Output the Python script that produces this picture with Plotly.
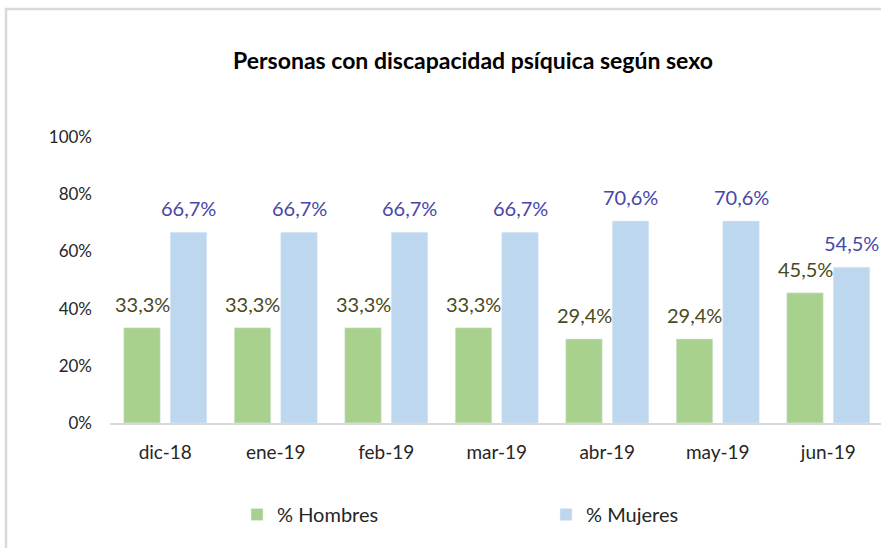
import plotly.graph_objects as go

categories = ["dic-18", "ene-19", "feb-19", "mar-19", "abr-19", "may-19", "jun-19"]
hombres = [0.333, 0.333, 0.333, 0.333, 0.294, 0.294, 0.455]
mujeres = [0.667, 0.667, 0.667, 0.667, 0.706, 0.706, 0.545]
hombres_labels = ["33,3%", "33,3%", "33,3%", "33,3%", "29,4%", "29,4%", "45,5%"]
mujeres_labels = ["66,7%", "66,7%", "66,7%", "66,7%", "70,6%", "70,6%", "54,5%"]
y_ticks = [0, 0.2, 0.4, 0.6, 0.8, 1.0]
y_tick_labels = ["0%", "20%", "40%", "60%", "80%", "100%"]

GREEN = "#A9D18E"
BLUE = "#BDD7EE"
GREEN_TXT = "#4A4A22"
BLUE_TXT = "#4747A8"
FONT = "Lato"

fig = go.Figure()
fig.add_trace(go.Bar(x=categories, y=hombres, name="% Hombres", marker_color=GREEN))
fig.add_trace(go.Bar(x=categories, y=mujeres, name="% Mujeres", marker_color=BLUE))

annotations = []
for c, v, t in zip(categories, hombres, hombres_labels):
    annotations.append(dict(x=c, y=v, text=t, showarrow=False, xshift=-23.25, yshift=10,
                            yanchor="bottom", font=dict(family=FONT, size=20, color=GREEN_TXT)))
for c, v, t in zip(categories, mujeres, mujeres_labels):
    annotations.append(dict(x=c, y=v, text=t, showarrow=False, xshift=23.25, yshift=10,
                            yanchor="bottom", font=dict(family=FONT, size=20, color=BLUE_TXT)))

fig.update_layout(
    width=881, height=548,
    margin=dict(l=110, r=0, t=137, b=125),
    paper_bgcolor="white", plot_bgcolor="white",
    barmode="group", bargap=0.158, bargroupgap=0.215,
    font=dict(family=FONT, color="#404040"),
    title=dict(text="<b>Personas con discapacidad psíquica según sexo</b>",
               x=473 / 881, xref="container", xanchor="center",
               y=1 - 61 / 548, yref="container", yanchor="middle",
               font=dict(family=FONT, size=23, color="#000000")),
    xaxis=dict(range=[-0.5, -0.5 + 771 / 110.5], showline=True, linecolor="#D9D9D9", linewidth=2,
               showgrid=False, ticks="", tickfont=dict(family=FONT, size=19, color="#262626"),
               ticklabelstandoff=11),
    yaxis=dict(range=[0, 1], tickvals=y_ticks, ticktext=y_tick_labels, showgrid=False,
               showline=False, zeroline=False, ticks="",
               tickfont=dict(family=FONT, size=17, color="#262626"), ticklabelstandoff=17),
    legend=dict(orientation="h", x=(237 - 110) / 771, xanchor="left", y=-0.32, yanchor="middle",
                entrywidth=264, entrywidthmode="pixels", itemwidth=30,
                font=dict(family=FONT, size=20, color="#262626")),
    annotations=annotations,
    shapes=[dict(type="rect", xref="paper", yref="paper",
                 x0=(6 - 110) / 771, x1=1.2, y0=-1.0, y1=(423 - 9) / 286,
                 line=dict(color="#D9D9D9", width=2.5), fillcolor="rgba(0,0,0,0)", layer="below")],
)

fig.write_html("out.html", config={"displayModeBar": False})
with open("out.html", "r", encoding="utf-8") as f:
    html = f.read()
html = html.replace("<head>", "<head><style>html,body{margin:0;padding:0;overflow:hidden}</style>", 1)
with open("out.html", "w", encoding="utf-8") as f:
    f.write(html)
